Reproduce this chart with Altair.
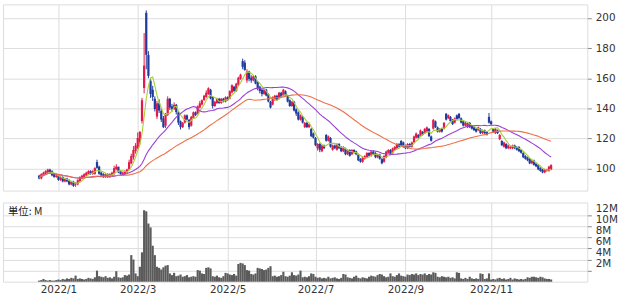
import altair as alt
import pandas as pd

# ---------------- data (trading-day index 0 = 2022/1/4) ----------------
start_index = -9

opens = [
    95, 94, 96, 97, 98, 99, 98, 96, 95,
    95, 93, 94, 92, 93, 92, 90, 91, 90, 90,
    92, 94, 95, 96, 97, 98, 97, 97, 104, 101,
    97, 96, 95, 96, 95, 96, 97, 100, 101, 98,
    97, 97, 98, 100, 104, 108, 112, 114, 118, 132,
    154, 203, 175, 158, 152, 146, 135, 143, 138, 133,
    129, 136, 146, 141, 140, 142, 137, 131, 128, 131,
    135, 132, 129, 134, 137, 137, 141, 143, 146, 148,
    150, 152, 147, 142, 144, 146, 144, 146, 145, 147,
    147, 151, 154, 152, 156, 160, 171, 170, 159, 164,
    160, 159, 161, 157, 154, 152, 150, 152, 149, 144,
    143, 146, 148, 147, 150, 149, 151, 148, 145, 142,
    144, 139, 137, 133, 134, 128, 130, 128, 126, 123,
    120, 114, 116, 112, 115, 122, 119, 120, 113, 115,
    113, 116, 114, 112, 113, 110, 112, 110, 112, 111,
    109, 106, 105, 107, 108, 110, 109, 111, 110, 108,
    109, 106, 105, 108, 111, 112, 111, 113, 114, 116,
    118, 117, 115, 114, 116, 115, 118, 121, 122, 122,
    124, 124, 125, 126, 121, 127, 131, 127, 125, 126,
    127, 136, 134, 134, 132, 131, 135, 136, 133, 131,
    129, 128, 130, 128, 127, 126, 126, 126, 124, 125,
    124, 134, 131, 126, 124, 125, 120, 118, 115, 116,
    114, 114, 114, 115, 114, 114, 112, 110, 108, 107,
    106, 104, 105, 103, 102, 100, 99, 98, 99, 99,
    100,
]
closes = [
    94, 96, 97, 98, 99, 98, 96, 95, 95,
    93, 94, 92, 93, 92, 90, 91, 89, 90, 92,
    94, 95, 96, 97, 98, 97, 98, 100, 101, 97,
    96, 95, 96, 95, 96, 97, 100, 101, 98, 97,
    97, 98, 99, 104, 108, 112, 115, 120, 124, 145,
    168, 176, 162, 150, 148, 140, 143, 139, 133, 128,
    136, 146, 141, 140, 142, 138, 131, 128, 130, 135,
    133, 128, 134, 137, 136, 141, 143, 145, 148, 150,
    153, 147, 142, 144, 146, 144, 146, 145, 147, 146,
    151, 155, 152, 156, 160, 162, 168, 166, 164, 160,
    159, 161, 157, 154, 152, 150, 152, 149, 145, 141,
    147, 148, 146, 150, 148, 152, 149, 145, 142, 144,
    139, 137, 133, 135, 131, 130, 128, 129, 122, 121,
    116, 116, 113, 115, 114, 119, 121, 115, 115, 114,
    116, 114, 112, 114, 110, 112, 109, 112, 111, 110,
    106, 105, 107, 108, 110, 109, 111, 110, 108, 109,
    107, 104, 108, 111, 112, 110, 113, 114, 116, 115,
    116, 115, 114, 116, 115, 117, 121, 123, 121, 125,
    123, 126, 127, 122, 119, 132, 128, 125, 126, 125,
    130, 133, 135, 132, 130, 133, 133, 134, 131, 129,
    130, 130, 128, 127, 126, 125, 127, 124, 125, 124,
    123, 131, 130, 125, 126, 124, 122, 116, 117, 114,
    115, 114, 115, 114, 113, 112, 111, 108, 107, 106,
    104, 105, 103, 102, 100, 99, 98, 99, 99, 101,
    102,
]
highs = [
    96, 97, 98, 99, 100, 100, 99, 97, 96,
    96, 95, 95, 94, 94, 93, 92, 92, 91, 93,
    95, 96, 97, 98, 99, 99, 99, 101, 106, 102,
    98, 97, 97, 97, 97, 98, 102, 103, 101, 99,
    98, 99, 100, 106, 110, 115, 117, 124, 125, 147,
    190, 205, 178, 160, 155, 148, 145, 146, 140, 135,
    137, 148, 147, 143, 144, 143, 138, 132, 131, 136,
    136, 133, 135, 138, 138, 142, 145, 146, 149, 152,
    154, 153, 148, 145, 147, 147, 147, 147, 148, 148,
    152, 156, 155, 157, 161, 163, 173, 172, 166, 165,
    162, 162, 162, 158, 155, 153, 153, 153, 150, 145,
    148, 149, 149, 151, 151, 153, 152, 149, 146, 145,
    145, 140, 138, 136, 135, 131, 131, 130, 127, 124,
    121, 117, 117, 116, 116, 123, 122, 121, 116, 116,
    117, 117, 115, 115, 114, 113, 113, 113, 113, 112,
    110, 107, 108, 109, 111, 111, 112, 112, 111, 110,
    110, 107, 109, 112, 113, 113, 114, 115, 117, 117,
    119, 118, 116, 117, 117, 118, 122, 124, 123, 126,
    125, 127, 128, 127, 122, 133, 132, 128, 127, 127,
    131, 137, 136, 135, 133, 134, 136, 137, 134, 132,
    131, 131, 131, 129, 128, 127, 128, 127, 126, 126,
    125, 137, 132, 127, 127, 126, 123, 119, 118, 117,
    116, 115, 116, 116, 115, 115, 113, 111, 109, 108,
    107, 106, 106, 104, 103, 101, 100, 100, 100, 102,
    103,
]
lows = [
    93, 93, 95, 96, 97, 97, 95, 94, 94,
    92, 92, 91, 91, 91, 89, 89, 88, 88, 89,
    91, 93, 94, 95, 96, 96, 96, 96, 100, 96,
    95, 94, 94, 94, 94, 95, 96, 99, 97, 96,
    96, 96, 97, 99, 103, 106, 110, 113, 116, 130,
    150, 166, 160, 147, 145, 138, 133, 137, 131, 127,
    127, 135, 139, 138, 139, 136, 129, 126, 127, 130,
    132, 126, 128, 133, 135, 136, 140, 142, 145, 147,
    149, 146, 140, 141, 143, 143, 143, 144, 144, 145,
    146, 150, 151, 151, 155, 159, 166, 165, 157, 158,
    157, 158, 156, 152, 150, 148, 149, 148, 144, 140,
    142, 145, 145, 146, 147, 148, 148, 144, 141, 141,
    138, 135, 132, 132, 130, 127, 127, 127, 121, 120,
    115, 112, 111, 111, 113, 118, 118, 114, 112, 113,
    112, 113, 111, 111, 109, 109, 108, 109, 110, 109,
    105, 104, 104, 106, 107, 108, 108, 109, 107, 107,
    106, 103, 104, 107, 110, 109, 110, 112, 113, 114,
    115, 114, 113, 113, 114, 114, 117, 120, 120, 121,
    122, 123, 124, 121, 118, 126, 127, 124, 124, 124,
    126, 132, 133, 131, 129, 130, 132, 133, 130, 128,
    128, 127, 127, 126, 125, 124, 125, 123, 123, 123,
    122, 130, 129, 124, 123, 123, 119, 115, 114, 113,
    113, 113, 113, 113, 112, 111, 110, 107, 106, 105,
    103, 103, 102, 101, 99, 98, 97, 97, 98, 98,
    99,
]
volumes_m = [
    0.2, 0.3, 0.5, 0.3, 0.2, 0.3, 0.2, 0.2, 0.3,
    0.4, 0.3, 0.5, 0.4, 0.6, 0.5, 0.7, 0.6, 1.1, 0.5,
    0.6, 0.5, 0.4, 0.5, 0.7, 0.6, 0.5, 0.8, 2.0, 1.0,
    0.9, 0.8, 1.0, 0.7, 0.8, 0.6, 0.9, 1.9, 0.8, 0.7,
    0.8, 1.2, 1.1, 1.3, 4.8, 4.0, 1.5, 1.0, 2.7, 5.3,
    12.9, 12.7, 10.5, 9.8, 6.5, 4.8, 2.7, 2.5, 2.2, 2.6,
    2.9, 3.0, 1.5, 1.2, 1.6, 1.0, 1.1, 1.3, 0.9, 1.0,
    1.2, 0.8, 0.9, 1.0, 0.9, 2.1, 2.0, 1.5, 1.4, 2.5,
    2.6, 2.4, 1.0, 0.9, 1.1, 0.8, 0.7, 1.0, 1.6, 1.5,
    1.3, 1.2, 1.4, 1.1, 3.2, 3.4, 3.3, 3.0, 2.1, 2.0,
    1.4, 1.3, 1.5, 2.5, 2.4, 2.3, 2.1, 2.2, 2.5, 2.8,
    1.0, 1.1, 0.9, 1.0, 1.2, 1.8, 1.0, 0.9, 1.1, 1.7,
    1.2, 1.1, 1.3, 2.0, 0.8, 0.9, 0.8, 1.0, 1.5, 1.4,
    0.9, 0.7, 0.8, 0.6, 0.7, 0.6, 0.9, 0.6, 0.7, 0.8,
    0.6, 0.5, 0.7, 1.4, 1.3, 0.8, 0.7, 0.6, 0.9, 1.1,
    0.7, 0.6, 0.8, 0.7, 0.6, 0.9, 1.1, 1.0, 0.9, 1.2,
    1.4, 1.3, 1.0, 0.8, 0.9, 1.5, 1.0, 0.9, 1.2, 1.5,
    1.1, 1.0, 0.9, 1.3, 1.2, 1.4, 1.3, 1.5, 1.2, 1.4,
    1.3, 1.5, 1.2, 1.4, 1.3, 1.7, 1.6, 0.9, 0.8, 1.0,
    0.9, 0.8, 0.9, 0.7, 0.8, 0.6, 1.7, 1.6, 0.6, 0.5,
    0.7, 0.5, 0.9, 0.6, 0.5, 0.6, 0.5, 1.5, 1.4, 0.5,
    0.6, 1.5, 0.4, 0.5, 0.4, 0.6, 0.7, 0.5, 0.6, 0.4,
    0.5, 0.7, 0.4, 0.6, 0.5, 0.4, 0.5, 0.4, 0.5, 0.8,
    0.7, 0.9, 0.9, 0.8, 0.7, 0.9, 0.8, 0.6, 0.5, 0.5,
    0.4,
]

month_tick_index = [0, 37, 79, 120, 162, 202]
month_tick_labels = ["2022/1", "2022/3", "2022/5", "2022/7", "2022/9", "2022/11"]
price_ticks = [100, 120, 140, 160, 180, 200]
volume_ticks = [2, 4, 6, 8, 10, 12]
unit_text = "単位: M"

ma_windows = [5, 25, 50]
ma_colors = ["#a8cf3a", "#9b3fd4", "#ee6f45"]

# ---------------- chart ----------------
n = len(closes)
df = pd.DataFrame({
    "i": list(range(start_index, start_index + n)),
    "open": opens, "close": closes, "high": highs, "low": lows,
    "vol": volumes_m,
})

UP = "#e3194b"
DOWN = "#1f3c9c"
FONT = "DejaVu Sans"
x_domain = [-25.9, 246.9]

label_expr = " : ".join(
    f"datum.value == {v} ? '{t}'" for v, t in zip(month_tick_index, month_tick_labels)
) + " : ''"

x_scale = alt.Scale(domain=x_domain, nice=False, zero=False)

x_axis_top = alt.Axis(values=month_tick_index, grid=True, labels=False, ticks=False,
                      domain=False, title=None)
x_axis_bottom = alt.Axis(values=month_tick_index, labelExpr=label_expr, grid=True,
                         ticks=False, domain=False, title=None, labelPadding=3,
                         labelFontSize=10.5, labelColor="#333", labelFont=FONT)

y_price = alt.Scale(domain=[85.5, 209], nice=False, zero=False)
y_axis_price = alt.Axis(orient="right", values=price_ticks, title=None, grid=True,
                        labelFontSize=10.5, labelColor="#333", labelFont=FONT,
                        tickSize=4, labelPadding=4, domain=False)

candle_color = alt.condition("datum.close >= datum.open", alt.value(UP), alt.value(DOWN))

base = alt.Chart(df)

wicks = base.mark_rule(strokeWidth=1).encode(
    x=alt.X("i:Q", scale=x_scale, axis=x_axis_top),
    y=alt.Y("low:Q", scale=y_price, axis=y_axis_price),
    y2="high:Q",
    color=candle_color,
)

bodies = base.transform_calculate(
    x0="datum.i - 0.52", x1="datum.i + 0.52",
    top="max(datum.open, datum.close) + 0.4",
    bot="min(datum.open, datum.close) - 0.4",
).mark_rect().encode(
    x=alt.X("x0:Q", scale=x_scale, axis=x_axis_top),
    x2="x1:Q",
    y=alt.Y("bot:Q", scale=y_price, axis=y_axis_price),
    y2="top:Q",
    color=candle_color,
)

ma_layers = []
for w, c in zip(ma_windows, ma_colors):
    ma_layers.append(
        base.transform_window(ma="mean(close)", frame=[-(w - 1), 0], sort=[alt.SortField("i")])
        .mark_line(color=c, strokeWidth=1.1)
        .encode(x=alt.X("i:Q", scale=x_scale, axis=x_axis_top),
                y=alt.Y("ma:Q", scale=y_price, axis=y_axis_price))
    )

top = alt.layer(wicks, bodies, *ma_layers).properties(width=590, height=188)

vol_bars = base.transform_calculate(
    x0="datum.i - 0.5", x1="datum.i + 0.5"
).mark_rect(color="#5b5b5b").encode(
    x=alt.X("x0:Q", scale=x_scale, axis=x_axis_bottom),
    x2="x1:Q",
    y=alt.Y("vol:Q", scale=alt.Scale(domain=[0, 14.3], nice=False),
            axis=alt.Axis(orient="right", values=volume_ticks, title=None, grid=True,
                          labelExpr="datum.value + 'M'", labelFontSize=10.5,
                          labelColor="#333", labelFont=FONT, tickSize=4,
                          labelPadding=4, domain=False, labelOverlap=False,
                          labelOffset=-7)),
    y2=alt.datum(0),
)

unit_label = alt.Chart(pd.DataFrame({"t": [unit_text]})).mark_text(
    align="left", baseline="middle", font="Noto Sans CJK JP", fontSize=10.5, color="#222"
).encode(x=alt.value(5), y=alt.value(10), text="t:N")

bottom = alt.layer(vol_bars, unit_label).properties(width=590, height=80)

chart = alt.vconcat(top, bottom, spacing=10).properties(
    padding={"left": 2, "top": 2, "right": 2, "bottom": 2}
).configure_view(
    stroke="#a0a0a0", strokeWidth=1
).configure_axis(
    gridColor="#b8b8b8", gridWidth=1, tickColor="#b0b0b0"
).configure(background="white")

chart.save("out.html", embed_options={"renderer": "svg", "actions": False})
